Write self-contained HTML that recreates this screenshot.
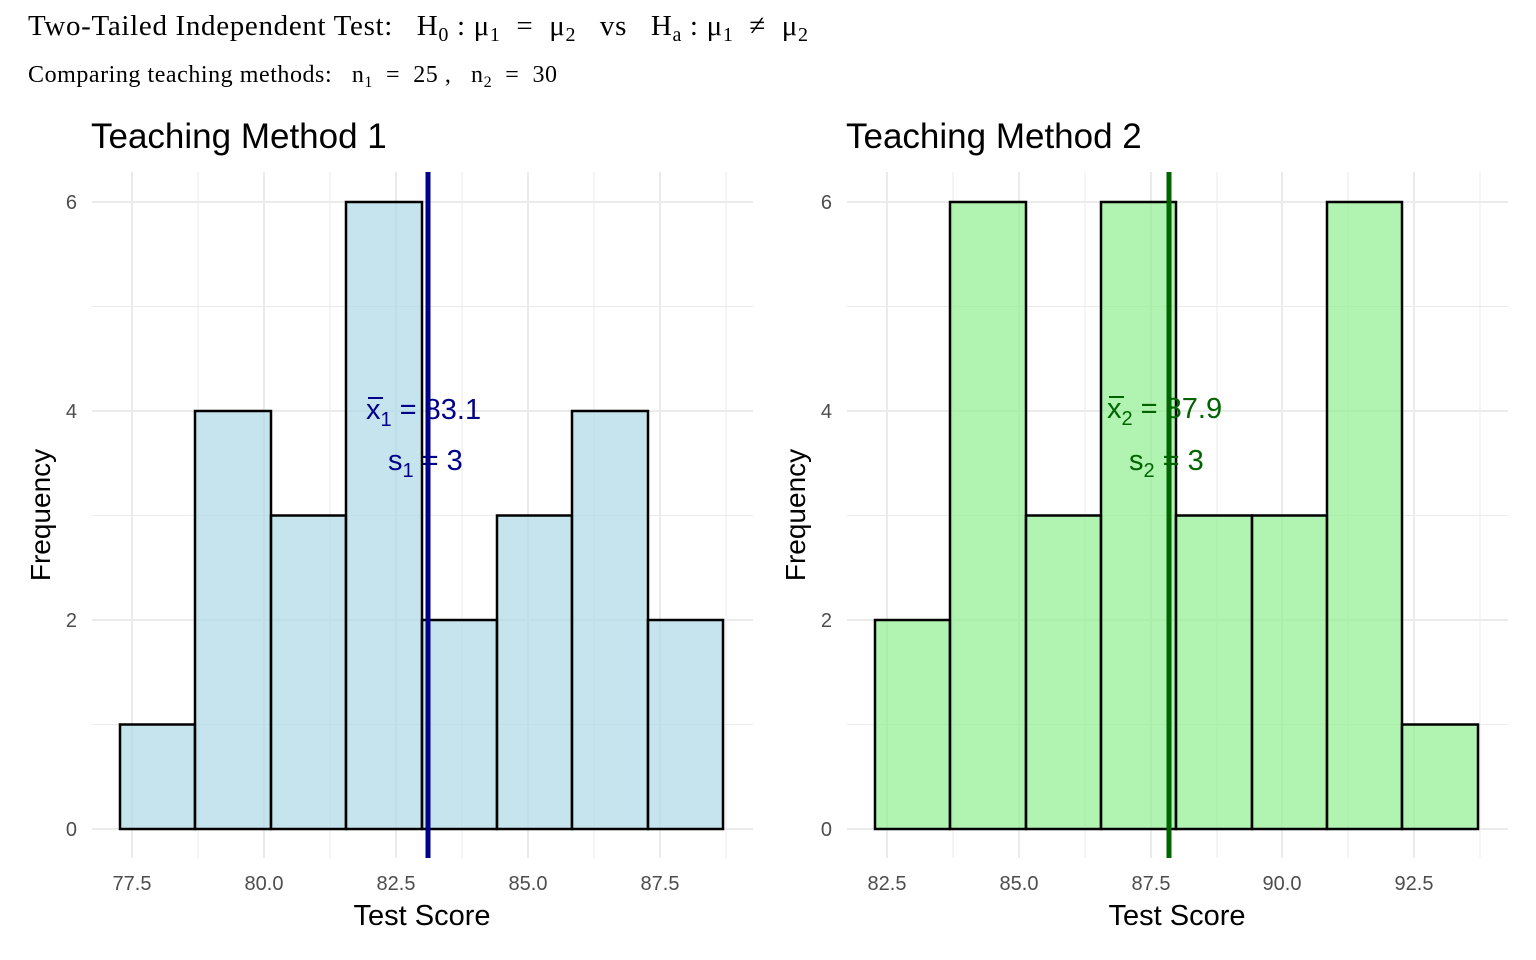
<!DOCTYPE html>
<html><head><meta charset="utf-8"><style>html,body{margin:0;padding:0;background:#fff}svg{display:block}</style></head><body>
<svg width="1536" height="960" xmlns="http://www.w3.org/2000/svg">
<text x="28" y="35" font-family="Liberation Serif, serif" font-size="29" fill="#000" textLength="780" lengthAdjust="spacing">Two-Tailed Independent Test:&#160;&#160; H<tspan font-size="20" dy="6">0</tspan><tspan dy="-6">&#160;:&#160;μ</tspan><tspan font-size="20" dy="6">1</tspan><tspan dy="-6">&#160;&#160;=&#160;&#160;μ</tspan><tspan font-size="20" dy="6">2</tspan><tspan dy="-6">&#160;&#160;&#160;vs&#160;&#160;&#160;H</tspan><tspan font-size="20" dy="6">a</tspan><tspan dy="-6">&#160;:&#160;μ</tspan><tspan font-size="20" dy="6">1</tspan><tspan dy="-6">&#160;&#160;≠&#160;&#160;μ</tspan><tspan font-size="20" dy="6">2</tspan></text>
<text x="28" y="82" font-family="Liberation Serif, serif" font-size="24" fill="#000" textLength="529" lengthAdjust="spacing">Comparing teaching methods:&#160;&#160; n<tspan font-size="16" dy="5">1</tspan><tspan dy="-5">&#160;&#160;=&#160;&#160;25&#160;,&#160;&#160; n</tspan><tspan font-size="16" dy="5">2</tspan><tspan dy="-5">&#160;&#160;=&#160;&#160;30</tspan></text>

<g font-family="Liberation Sans, sans-serif">
<!-- Panel 1 -->
<text x="91" y="148" font-size="35">Teaching Method 1</text>
<g stroke="#EBEBEB" stroke-width="1">
<line x1="92" x2="753" y1="724.5" y2="724.5"/><line x1="92" x2="753" y1="515.5" y2="515.5"/><line x1="92" x2="753" y1="306.5" y2="306.5"/>
<line x1="198" x2="198" y1="172" y2="858"/><line x1="330" x2="330" y1="172" y2="858"/><line x1="462" x2="462" y1="172" y2="858"/><line x1="594" x2="594" y1="172" y2="858"/><line x1="726" x2="726" y1="172" y2="858"/>
</g>
<g stroke="#EBEBEB" stroke-width="2">
<line x1="92" x2="753" y1="829" y2="829"/><line x1="92" x2="753" y1="620" y2="620"/><line x1="92" x2="753" y1="411" y2="411"/><line x1="92" x2="753" y1="202" y2="202"/>
<line x1="132" x2="132" y1="172" y2="858"/><line x1="264" x2="264" y1="172" y2="858"/><line x1="396" x2="396" y1="172" y2="858"/><line x1="528" x2="528" y1="172" y2="858"/><line x1="660" x2="660" y1="172" y2="858"/>
</g>
<g fill="#ADD8E6" fill-opacity="0.7" stroke="#000" stroke-width="2.5">
<rect x="120" y="724.5" width="75" height="104.5"/>
<rect x="195" y="411" width="76" height="418"/>
<rect x="271" y="515.5" width="75" height="313.5"/>
<rect x="346" y="202" width="76" height="627"/>
<rect x="422" y="620" width="75" height="209"/>
<rect x="497" y="515.5" width="75" height="313.5"/>
<rect x="572" y="411" width="76" height="418"/>
<rect x="648" y="620" width="75" height="209"/>
</g>
<line x1="428" x2="428" y1="172" y2="858" stroke="#00008B" stroke-width="5"/>
<g fill="#00008B" font-size="29">
<text x="366" y="419">x<tspan font-size="20" dy="7">1</tspan><tspan dy="-7"> = 83.1</tspan></text>
<line x1="368" x2="383" y1="398" y2="398" stroke="#00008B" stroke-width="2"/>
<text x="388" y="470">s<tspan font-size="20" dy="7">1</tspan><tspan dy="-7"> = 3</tspan></text>
</g>
<g fill="#4D4D4D" font-size="20" text-anchor="end">
<text x="77" y="836">0</text><text x="77" y="627">2</text><text x="77" y="418">4</text><text x="77" y="209">6</text>
</g>
<g fill="#4D4D4D" font-size="20" text-anchor="middle">
<text x="132" y="890">77.5</text><text x="264" y="890">80.0</text><text x="396" y="890">82.5</text><text x="528" y="890">85.0</text><text x="660" y="890">87.5</text>
</g>
<text x="422" y="925" font-size="29" text-anchor="middle">Test Score</text>
<text transform="translate(50,515) rotate(-90)" font-size="28" text-anchor="middle">Frequency</text>

<!-- Panel 2 -->
<text x="846" y="148" font-size="35">Teaching Method 2</text>
<g stroke="#EBEBEB" stroke-width="1">
<line x1="847" x2="1508" y1="724.5" y2="724.5"/><line x1="847" x2="1508" y1="515.5" y2="515.5"/><line x1="847" x2="1508" y1="306.5" y2="306.5"/>
<line x1="953" x2="953" y1="172" y2="858"/><line x1="1085" x2="1085" y1="172" y2="858"/><line x1="1217" x2="1217" y1="172" y2="858"/><line x1="1348" x2="1348" y1="172" y2="858"/><line x1="1480" x2="1480" y1="172" y2="858"/>
</g>
<g stroke="#EBEBEB" stroke-width="2">
<line x1="847" x2="1508" y1="829" y2="829"/><line x1="847" x2="1508" y1="620" y2="620"/><line x1="847" x2="1508" y1="411" y2="411"/><line x1="847" x2="1508" y1="202" y2="202"/>
<line x1="887" x2="887" y1="172" y2="858"/><line x1="1019" x2="1019" y1="172" y2="858"/><line x1="1151" x2="1151" y1="172" y2="858"/><line x1="1282" x2="1282" y1="172" y2="858"/><line x1="1414" x2="1414" y1="172" y2="858"/>
</g>
<g fill="#90EE90" fill-opacity="0.7" stroke="#000" stroke-width="2.5">
<rect x="875" y="620" width="75" height="209"/>
<rect x="950" y="202" width="76" height="627"/>
<rect x="1026" y="515.5" width="75" height="313.5"/>
<rect x="1101" y="202" width="75" height="627"/>
<rect x="1176" y="515.5" width="76" height="313.5"/>
<rect x="1252" y="515.5" width="75" height="313.5"/>
<rect x="1327" y="202" width="75" height="627"/>
<rect x="1402" y="724.5" width="76" height="104.5"/>
</g>
<line x1="1169" x2="1169" y1="172" y2="858" stroke="#006400" stroke-width="5"/>
<g fill="#006400" font-size="29">
<text x="1107" y="418">x<tspan font-size="20" dy="7">2</tspan><tspan dy="-7"> = 87.9</tspan></text>
<line x1="1109" x2="1124" y1="397" y2="397" stroke="#006400" stroke-width="2"/>
<text x="1129" y="470">s<tspan font-size="20" dy="7">2</tspan><tspan dy="-7"> = 3</tspan></text>
</g>
<g fill="#4D4D4D" font-size="20" text-anchor="end">
<text x="832" y="836">0</text><text x="832" y="627">2</text><text x="832" y="418">4</text><text x="832" y="209">6</text>
</g>
<g fill="#4D4D4D" font-size="20" text-anchor="middle">
<text x="887" y="890">82.5</text><text x="1019" y="890">85.0</text><text x="1151" y="890">87.5</text><text x="1282" y="890">90.0</text><text x="1414" y="890">92.5</text>
</g>
<text x="1177" y="925" font-size="29" text-anchor="middle">Test Score</text>
<text transform="translate(805,515) rotate(-90)" font-size="28" text-anchor="middle">Frequency</text>
</g>
</svg>
</body></html>
